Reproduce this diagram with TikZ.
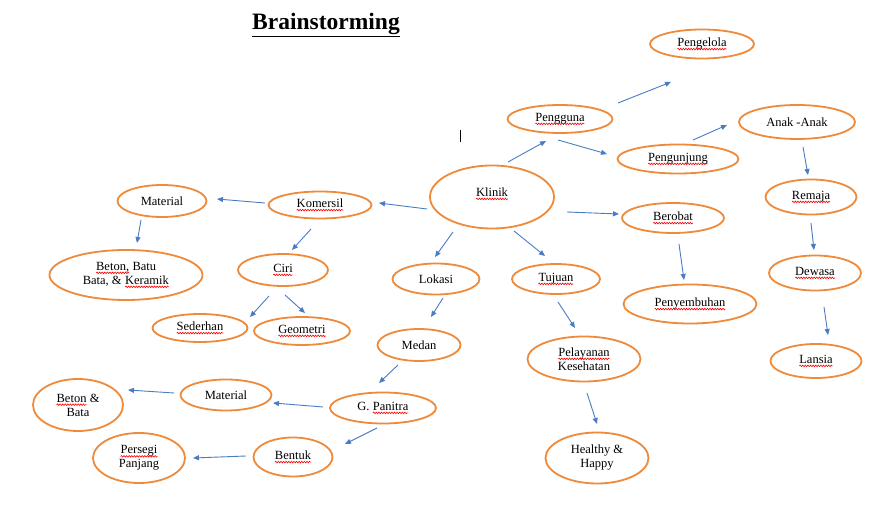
\documentclass[tikz,border=0pt]{standalone}
\usepackage{fontspec}
\setmainfont{Liberation Serif}
\usepackage{xcolor}
\usetikzlibrary{shapes.geometric,arrows.meta,calc,decorations.pathmorphing}
\definecolor{borange}{HTML}{EE8A3A}
\definecolor{ablue}{HTML}{4A7CC4}
\newcommand\spl[1]{\tikz[baseline=(sw.base)]{\node[shape=rectangle,draw=none,fill=none,inner sep=0pt,outer sep=0pt,minimum width=0pt,minimum height=0pt,anchor=base,text=black] (sw) at (0pt,0pt) {#1};\draw[red,line width=0.6pt,decorate,decoration={snake,amplitude=0.8pt,segment length=2.6pt}] ($(sw.base west)+(0pt,-2.6pt)$) -- ($(sw.base east)+(0pt,-2.6pt)$);}}
\newcommand\bubfont{\fontsize{12.5}{14}\selectfont}
\tikzset{
  bub/.style={ellipse, draw=borange, line width=1.8pt, inner sep=0pt, font=\bubfont, align=center},
  arr/.style={draw=ablue, line width=0.9pt, -{Triangle[length=6pt,width=5pt]}},
}
\begin{document}
\begin{tikzpicture}[x=1pt,y=-1pt]
\fill[white] (0,0) rectangle (895,510);
\useasboundingbox (0,0) rectangle (895,510);

\node[font=\fontsize{23.5}{26}\selectfont\bfseries, anchor=base, inner sep=0pt] (title) at (326,30) {\underline{Brainstorming}};
\draw[line width=0.6pt] (460,130) -- (460,142);

% nodes
\node[bub, minimum width=104pt, minimum height=29pt] (pengelola) at (702,44) {\spl{Pengelola}};
\node[bub, minimum width=105pt, minimum height=28pt] (pengguna) at (560,119) {\spl{Pengguna}};
\node[bub, minimum width=116pt, minimum height=34pt] (anak) at (797,122) {Anak -Anak};
\node[bub, minimum width=121pt, minimum height=29pt] (pengunjung) at (678,159) {\spl{Pengunjung}};
\node[bub, minimum width=124pt, minimum height=63pt] (klinik) at (492,197) {\spl{Klinik}\\[-4pt]};
\node[bub, minimum width=103pt, minimum height=27pt] (komersil) at (320,205) {\spl{Komersil}};
\node[bub, minimum width=89pt, minimum height=32pt] (material1) at (162,201) {Material};
\node[bub, minimum width=153pt, minimum height=50pt] (beton1) at (126,275) {\spl{Beton,} Batu\\Bata, \& \spl{Keramik}};
\node[bub, minimum width=90pt, minimum height=32pt] (ciri) at (283,270) {\spl{Ciri}};
\node[bub, minimum width=95pt, minimum height=28pt] (sederhan) at (200,328) {\spl{Sederhan}};
\node[bub, minimum width=96pt, minimum height=28pt] (geometri) at (302,331) {\spl{Geometri}};
\node[bub, minimum width=87pt, minimum height=31pt] (lokasi) at (436,279) {Lokasi};
\node[bub, minimum width=88pt, minimum height=30pt] (tujuan) at (556,279) {\spl{Tujuan}};
\node[bub, minimum width=102pt, minimum height=30pt] (berobat) at (673,218) {\spl{Berobat}};
\node[bub, minimum width=133pt, minimum height=39pt] (penyembuhan) at (690,304) {\spl{Penyembuhan}};
\node[bub, minimum width=91pt, minimum height=35pt] (remaja) at (811,197) {\spl{Remaja}};
\node[bub, minimum width=92pt, minimum height=35pt] (dewasa) at (815,273) {\spl{Dewasa}};
\node[bub, minimum width=91pt, minimum height=34pt] (lansia) at (816,361) {\spl{Lansia}};
\node[bub, minimum width=113pt, minimum height=45pt] (pelayanan) at (584,359) {\spl{Pelayanan}\\Kesehatan};
\node[bub, minimum width=103pt, minimum height=51pt] (healthy) at (597,458) {Healthy \&\\Happy};
\node[bub, minimum width=83pt, minimum height=32pt] (medan) at (419,345) {Medan};
\node[bub, minimum width=106pt, minimum height=31pt] (panitra) at (383,408) {G. \spl{Panitra}};
\node[bub, minimum width=91pt, minimum height=31pt] (material2) at (226,395) {Material};
\node[bub, minimum width=90pt, minimum height=52pt] (betonbata) at (78,405) {\spl{Beton} \&\\Bata};
\node[bub, minimum width=79pt, minimum height=39pt] (bentuk) at (293,457) {\spl{Bentuk}};
\node[bub, minimum width=92pt, minimum height=50pt] (persegi) at (139,458) {\spl{Persegi}\\Panjang};

% connectors
\draw[arr] ($(klinik.center)+(16,-35)$) -- ($(pengguna.center)+(-14,22)$);
\draw[arr] ($(pengguna.center)+(58,-16)$) -- ($(pengelola.center)+(-31,38)$);
\draw[arr] ($(pengguna.center)+(-2,21)$) -- ($(pengunjung.center)+(-71,-5)$);
\draw[arr] ($(pengunjung.center)+(15,-19)$) -- ($(anak.center)+(-70,3)$);
\draw[arr] ($(anak.center)+(6,25)$) -- ($(remaja.center)+(-3,-22)$);
\draw[arr] ($(klinik.center)+(-65,12)$) -- ($(komersil.center)+(59,-2)$);
\draw[arr] ($(komersil.center)+(-55,-2)$) -- ($(material1.center)+(55,-2)$);
\draw[arr] ($(material1.center)+(-21,19)$) -- ($(beton1.center)+(11,-32)$);
\draw[arr] ($(komersil.center)+(-9,24)$) -- ($(ciri.center)+(9,-20)$);
\draw[arr] ($(ciri.center)+(-14,26)$) -- ($(sederhan.center)+(50,-11)$);
\draw[arr] ($(ciri.center)+(2,25)$) -- ($(geometri.center)+(3,-18)$);
\draw[arr] ($(klinik.center)+(-39,35)$) -- ($(lokasi.center)+(-1,-22)$);
\draw[arr] ($(lokasi.center)+(7,19)$) -- ($(medan.center)+(12,-28)$);
\draw[arr] ($(klinik.center)+(22,34)$) -- ($(tujuan.center)+(-11,-23)$);
\draw[arr] ($(klinik.center)+(75,15)$) -- ($(berobat.center)+(-54,-4)$);
\draw[arr] ($(berobat.center)+(6,26)$) -- ($(penyembuhan.center)+(-6,-24)$);
\draw[arr] ($(remaja.center)+(0,26)$) -- ($(dewasa.center)+(-1,-23)$);
\draw[arr] ($(dewasa.center)+(9,34)$) -- ($(lansia.center)+(12,-26)$);
\draw[arr] ($(tujuan.center)+(2,23)$) -- ($(pelayanan.center)+(-9,-31)$);
\draw[arr] ($(pelayanan.center)+(3,34)$) -- ($(healthy.center)+(0,-34)$);
\draw[arr] ($(medan.center)+(-21,20)$) -- ($(panitra.center)+(-4,-25)$);
\draw[arr] ($(panitra.center)+(-60,-1)$) -- ($(material2.center)+(47,8)$);
\draw[arr] ($(material2.center)+(-52,-2)$) -- ($(betonbata.center)+(50,-15)$);
\draw[arr] ($(panitra.center)+(-6,20)$) -- ($(bentuk.center)+(52,-13)$);
\draw[arr] ($(bentuk.center)+(-47,-1)$) -- ($(persegi.center)+(54,0)$);
\end{tikzpicture}
\end{document}
